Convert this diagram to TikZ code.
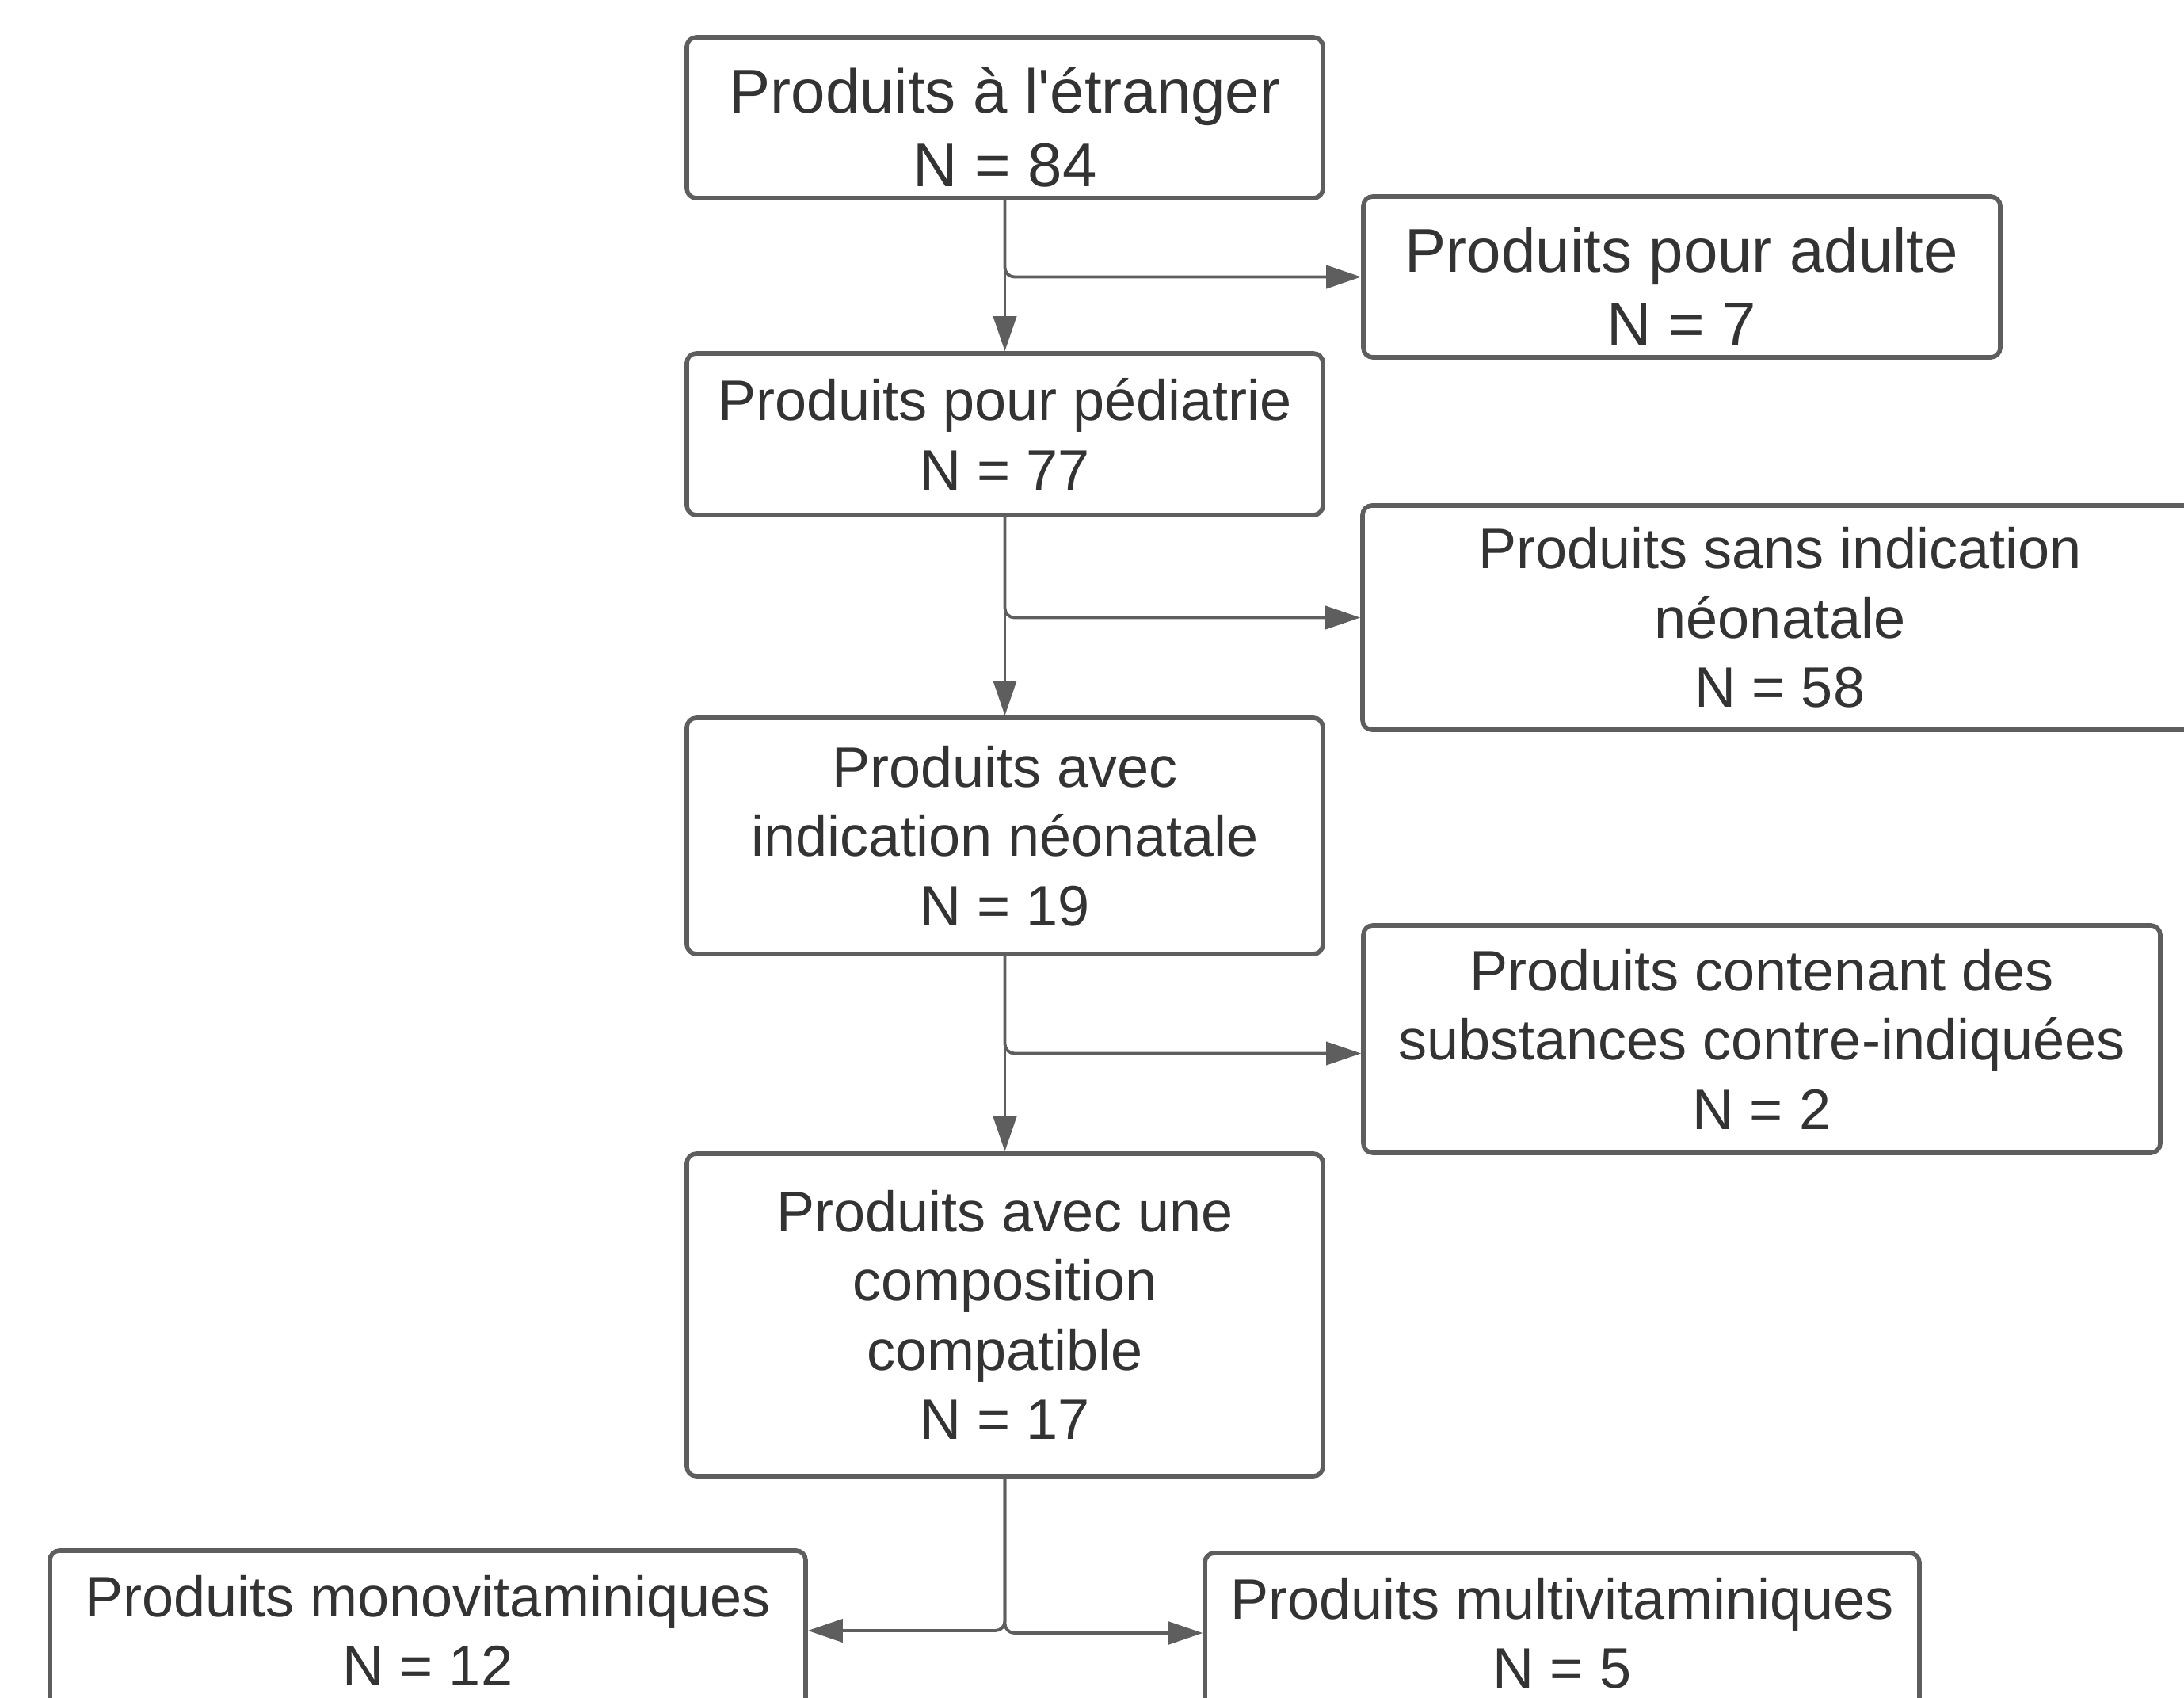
\documentclass[tikz,border=0pt]{standalone}
\usepackage{fontspec}
\setmainfont{Liberation Sans}
\usetikzlibrary{arrows.meta}
\definecolor{linegray}{HTML}{5E5E5E}
\definecolor{textgray}{HTML}{333333}
\newcommand{\toppad}{\rule{0pt}{1.04em}}

\begin{document}
\begin{tikzpicture}[
  box/.style={draw=linegray, line width=1.6pt, rounded corners=0.12cm, align=center,
    text=textgray, font=\fontsize{20.5}{24.9}\selectfont, inner sep=0pt},
  bigbox/.style={box, font=\fontsize{22.2}{26.4}\selectfont},
  conn/.style={draw=linegray, line width=1.1pt, rounded corners=0.12cm,
    -{Triangle[length=0.44cm,width=0.29cm]}}
]
\useasboundingbox (0,0) rectangle (27.57,-21.43);

\node[bigbox, minimum width=8.03cm, minimum height=2.03cm] (etranger) at (12.685,-1.485) {\toppad Produits à l\textquotesingle étranger\\N = 84};
\node[bigbox, minimum width=8.04cm, minimum height=2.03cm] (adulte) at (21.23,-3.495) {\toppad Produits pour adulte\\N = 7};
\node[box, minimum width=8.03cm, minimum height=2.04cm] (pediatrie) at (12.685,-5.48) {Produits pour pédiatrie\\N = 77};
\node[box, minimum width=10.54cm, minimum height=2.83cm] (sans) at (22.47,-7.795) {Produits sans indication\\néonatale\\N = 58};
\node[box, minimum width=8.03cm, minimum height=2.98cm] (avec) at (12.685,-10.55) {Produits avec\\indication néonatale\\N = 19};
\node[box, minimum width=10.06cm, minimum height=2.87cm] (contenant) at (22.24,-13.115) {Produits contenant des\\substances contre-indiquées\\N = 2};
\node[box, minimum width=8.03cm, minimum height=4.07cm] (compo) at (12.685,-16.595) {Produits avec une\\composition\\compatible\\N = 17};
\node[box, minimum width=9.54cm, minimum height=2.02cm] (mono) at (5.40,-20.58) {Produits monovitaminiques\\N = 12};
\node[box, minimum width=9.02cm, minimum height=2.02cm] (multi) at (19.72,-20.61) {Produits multivitaminiques\\N = 5};

\draw[conn] (etranger.south) -- (pediatrie.north);
\draw[conn] (etranger.south) |- (adulte.west);
\draw[conn] (pediatrie.south) -- (avec.north);
\draw[conn] (pediatrie.south) |- (sans.west);
\draw[conn] (avec.south) -- (compo.north);
\draw[conn] (avec.south) |- ([yshift=-0.18cm]contenant.west);
\draw[conn] (compo.south) |- (mono.east);
\draw[conn] (compo.south) |- (multi.west);
\end{tikzpicture}
\end{document}
